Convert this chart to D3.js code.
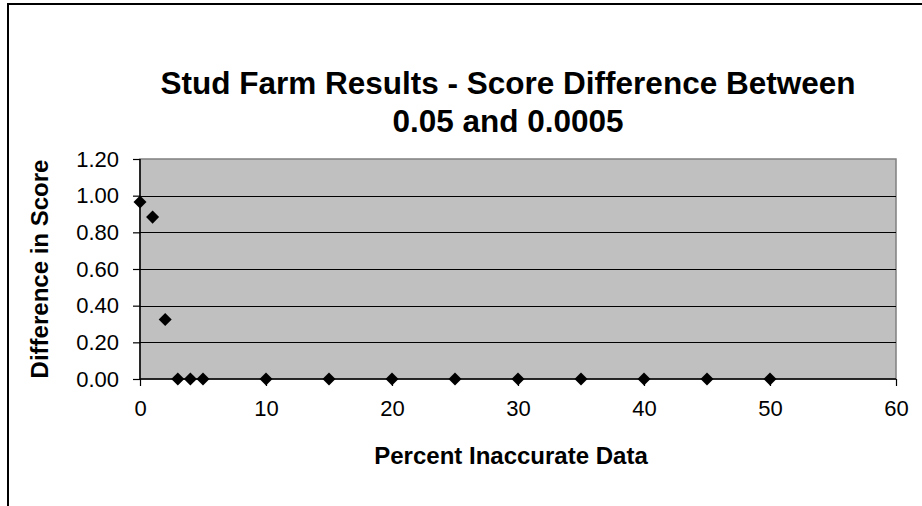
<!DOCTYPE html>
<html>
<head>
<meta charset="utf-8">
<script src="https://cdn.jsdelivr.net/npm/d3@7"></script>
<style>
  html, body { margin: 0; padding: 0; background: #fff; }
  svg { display: block; font-family: "Liberation Sans", Arial, sans-serif; }
</style>
</head>
<body>
<svg id="chart" width="922" height="506"></svg>
<script>
// Percent of inaccurate data vs. score difference between thresholds
const percentInaccurate = [0, 1, 2, 3, 4, 5, 10, 15, 20, 25, 30, 35, 40, 45, 50];
const scoreDifference   = [0.965, 0.883, 0.325, 0, 0, 0, 0, 0, 0, 0, 0, 0, 0, 0, 0];
const xTicks = [0, 10, 20, 30, 40, 50, 60];
const yTicks = [0, 0.2, 0.4, 0.6, 0.8, 1.0, 1.2];
const titleLines = ["Stud Farm Results - Score Difference Between", "0.05 and 0.0005"];

const svg = d3.select("#chart");

// chart frame
svg.append("rect")
  .attr("x", 8).attr("y", 4)
  .attr("width", 940).attr("height", 540)
  .attr("fill", "#fff").attr("stroke", "#000").attr("stroke-width", 2);

const plot = { left: 140, top: 159, right: 896, bottom: 379 };

const x = d3.scaleLinear().domain([0, 60]).range([plot.left, plot.right]);
const y = d3.scaleLinear().domain([0, 1.2]).range([plot.bottom, plot.top]);

// plot area background
svg.append("rect")
  .attr("x", plot.left).attr("y", plot.top)
  .attr("width", plot.right - plot.left).attr("height", plot.bottom - plot.top)
  .attr("fill", "#C0C0C0").attr("stroke", "#808080").attr("stroke-width", 1.5);

// horizontal gridlines
svg.append("g")
  .selectAll("line")
  .data(yTicks.filter(d => d > 0 && d < 1.2))
  .join("line")
  .attr("x1", plot.left).attr("x2", plot.right)
  .attr("y1", d => Math.round(y(d)) + 0.5).attr("y2", d => Math.round(y(d)) + 0.5)
  .attr("stroke", "#000").attr("stroke-width", 1);

// axes
const yAxis = svg.append("g")
  .attr("transform", `translate(${plot.left},0)`)
  .call(d3.axisLeft(y).tickValues(yTicks).tickFormat(d3.format(".2f")).tickSize(7).tickPadding(14));
const xAxis = svg.append("g")
  .attr("transform", `translate(0,${plot.bottom})`)
  .call(d3.axisBottom(x).tickValues(xTicks).tickFormat(d3.format("d")).tickSize(7).tickPadding(14));

[yAxis, xAxis].forEach(g => {
  g.select(".domain").attr("stroke", "#000").attr("stroke-width", 1.5);
  g.selectAll(".tick line").attr("stroke", "#000").attr("stroke-width", 1.2);
  g.selectAll(".tick text")
    .attr("fill", "#000")
    .style("font-family", "'Liberation Sans', Arial, sans-serif")
    .style("font-size", "22px");
});
xAxis.select(".domain").attr("d", `M${plot.left},0H${plot.right}`);
yAxis.select(".domain").attr("d", `M0,${plot.bottom}V${plot.top}`);

// diamond markers
const diamond = d3.symbol().type(d3.symbolSquare).size(85);
svg.append("g")
  .selectAll("path")
  .data(percentInaccurate.map((p, i) => ({ p, v: scoreDifference[i] })))
  .join("path")
  .attr("d", diamond)
  .attr("transform", d => `translate(${x(d.p)},${y(d.v)}) rotate(45)`)
  .attr("fill", "#000");

// title
svg.append("text")
  .attr("x", 508).attr("y", 94)
  .attr("text-anchor", "middle")
  .style("font-size", "31.5px").style("font-weight", "bold")
  .selectAll("tspan")
  .data(titleLines)
  .join("tspan")
  .attr("x", 508)
  .attr("dy", (d, i) => i === 0 ? 0 : 38)
  .text(d => d);

// axis titles
svg.append("text")
  .attr("x", 511).attr("y", 464)
  .attr("text-anchor", "middle")
  .style("font-size", "24px").style("font-weight", "bold")
  .text("Percent Inaccurate Data");

svg.append("text")
  .attr("transform", `translate(48,${(plot.top + plot.bottom) / 2}) rotate(-90)`)
  .attr("text-anchor", "middle")
  .style("font-size", "24px").style("font-weight", "bold")
  .text("Difference in Score");
</script>
</body>
</html>
